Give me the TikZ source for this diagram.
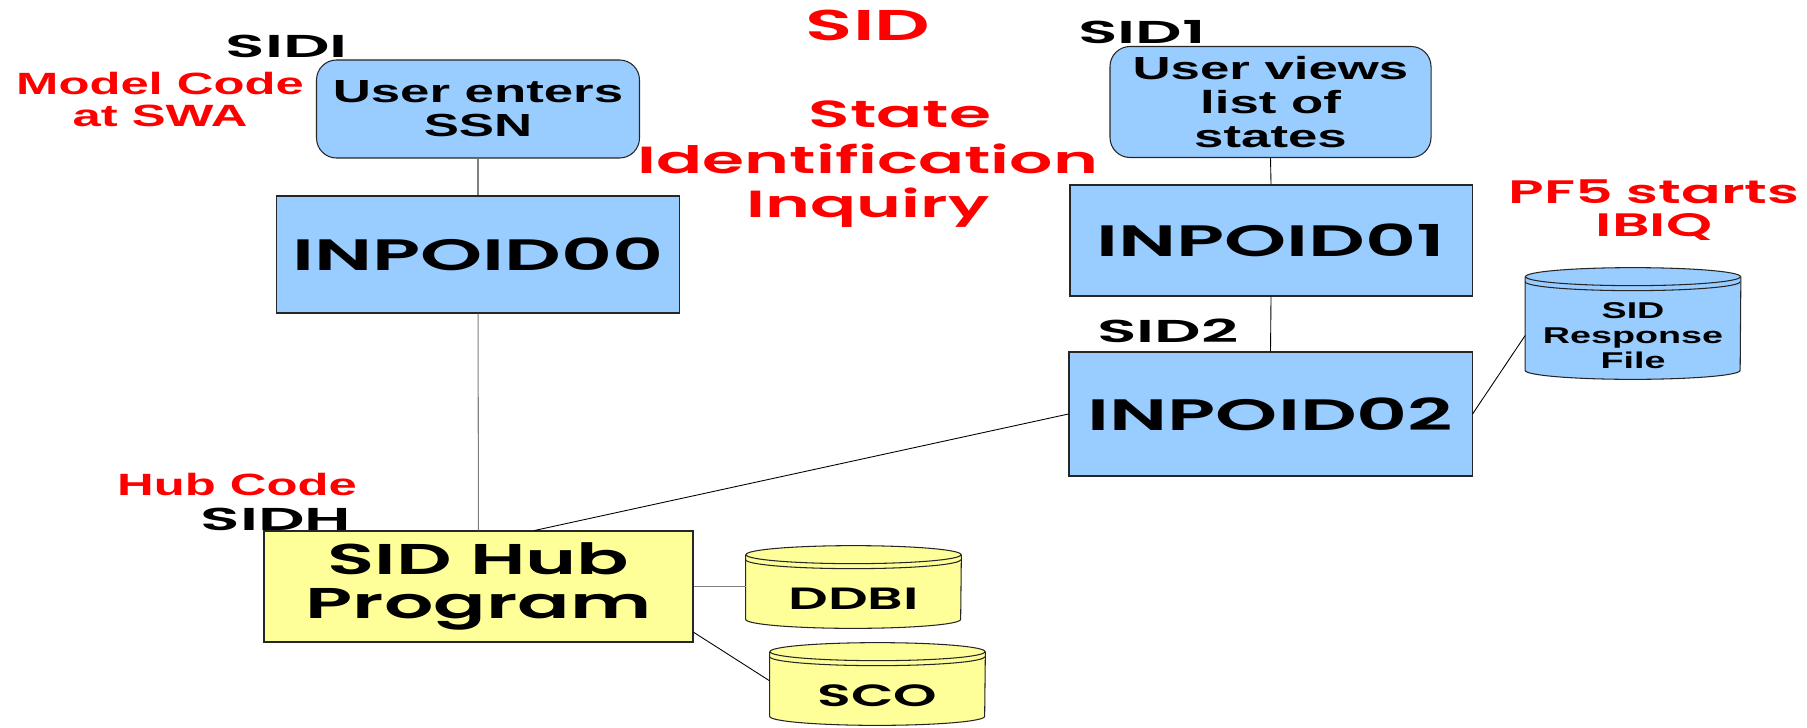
\documentclass[tikz,border=0pt]{standalone}
\usepackage{fontspec}
\newfontfamily\comicfont{Poppins}[FakeStretch=1.8, BoldFont={Poppins SemiBold}]
\newfontfamily\comictag{Poppins}[FakeStretch=2.05, BoldFont={Poppins SemiBold}]
\newfontfamily\plainfont{Liberation Sans}[FakeStretch=1.65]
\usetikzlibrary{positioning}
\usetikzlibrary{backgrounds, calc}

\definecolor{boxblue}{HTML}{99CCFF}
\definecolor{hubyellow}{HTML}{FFFF99}
\definecolor{notered}{HTML}{FF0000}

\newcommand{\progfont}{\comicfont\bfseries\fontsize{25}{26}\selectfont}
\newcommand{\hubfont}{\comicfont\bfseries\fontsize{24.5}{25}\selectfont}
\newcommand{\screenfont}{\plainfont\bfseries\fontsize{18.2}{19.3}\selectfont}
\newcommand{\respfont}{\plainfont\bfseries\fontsize{13}{14.2}\selectfont}
\newcommand{\tagfont}{\comictag\bfseries\fontsize{18}{20}\selectfont}
\newcommand{\drumfont}{\comicfont\bfseries\fontsize{17.5}{19}\selectfont}
\newcommand{\titlefont}{\comicfont\bfseries\fontsize{21.5}{24}\selectfont}
\newcommand{\notefont}{\plainfont\bfseries\fontsize{17.5}{18.2}\selectfont}

\tikzset{
  prog/.style={draw=black!85, fill=boxblue, line width=0.6pt, align=center, inner sep=0pt, font=\progfont},
  screen/.style={prog, rounded corners=4mm, font=\screenfont},
  hubbox/.style={prog, fill=hubyellow, font=\hubfont},
  drum/.style={inner sep=0pt, minimum width=43mm, align=center, font=\drumfont},
  idtag/.style={font=\tagfont, anchor=base},
  redhead/.style={font=\titlefont, text=notered, anchor=base},
  rednote/.style={font=\notefont, text=notered, align=center},
  wire/.style={line width=0.5pt, draw=black},
  greywire/.style={line width=0.6pt, draw=black!50}
}

% database drum behind a node, lid sits above the node
\newcommand{\drawdrum}[2]{%
  \begin{scope}[on background layer]
    \filldraw[fill=#2, draw=black!85, line width=0.6pt]
      ($(#1.north west)+(0,-15)$) -- ($(#1.south west)+(0,-9)$)
      arc[start angle=180, end angle=360, x radius=21.5mm, y radius=1.8mm]
      -- ($(#1.north east)+(0,-15)$);
    \filldraw[fill=#2, draw=black!85, line width=0.6pt]
      ($(#1.north)+(0,-15)$) ellipse[x radius=21.5mm, y radius=1.8mm];
    \draw[black!85, line width=0.6pt] ($(#1.north west)+(0,-10)$)
      arc[start angle=180, end angle=360, x radius=21.5mm, y radius=1.8mm];
  \end{scope}}

\begin{document}
\begin{tikzpicture}[x=0.2mm,y=-0.2mm]
\useasboundingbox (0,0) rectangle (1807,727);

% left column
\node[screen, minimum width=64.6mm, minimum height=19.6mm] (ssn) at (478,109) {User enters\\SSN};
\node[prog, minimum width=80.6mm, minimum height=23.4mm] (inp00) at (478,254.5) {INPOID00};
\node[hubbox, minimum width=85.8mm, minimum height=22.2mm] (hub) at (478.5,586.5) {SID Hub\\Program};

% right column
\node[screen, minimum width=64.2mm, minimum height=22.2mm] (views) at (1270.5,102) {User views\\list of\\states};
\node[prog, minimum width=80.4mm, minimum height=22.2mm] (inp01) at (1271,240.5) {INPOID01};
\node[prog, minimum width=80.6mm, minimum height=24.8mm] (inp02) at (1270.5,414) {INPOID02};

% files
\node[drum, minimum height=17.4mm, font=\respfont] (resp) at (1633,335.5) {SID\\Response\\File};
\drawdrum{resp}{boxblue}
\node[drum, minimum height=11.6mm] (ddbi) at (853.5,599) {DDBI};
\drawdrum{ddbi}{hubyellow}
\node[drum, minimum height=11.6mm] (sco) at (877.5,696) {SCO};
\drawdrum{sco}{hubyellow}

% screen ids
\node[idtag] (sidi) at (287,58) {SIDI};
\node[idtag] (sid1) at (1142,44) {SID1};
\node[idtag] (sid2) at (1168,342) {SID2};
\node[idtag] (sidh) at (276,530) {SIDH};

% red notes
\node[redhead, font=\comicfont\bfseries\fontsize{24.5}{26}\selectfont] (title) at (868,41) {SID};
\node[redhead] (state) at (900,127) {State};
\node[redhead] (ident) at (868,173) {Identification};
\node[redhead] (inquiry) at (868,217) {Inquiry};
\node[rednote] (model) at (160,100) {Model Code\\at SWA};
\node[rednote, anchor=base] (hubcode) at (237,495) {Hub Code};
\node[rednote, font=\comicfont\bfseries\fontsize{18.5}{18.8}\selectfont] (pf5) at (1654,210) {PF5 starts\\IBIQ};

% connections
\draw[greywire] (ssn) -- (inp00);
\draw[greywire] (inp00) -- (hub);
\draw[wire] (views.south) -- (inp01.north);
\draw[wire] (inp01.south) -- (inp02.north);
\draw[wire] (inp02.west) -- (hub.45);
\draw[wire] (inp02.east) -- (resp.west);
\draw[greywire] (hub.east) -- (hub.east -| ddbi.west);
\draw[wire] (hub.-12) -- (sco.172);

\end{tikzpicture}
\end{document}
